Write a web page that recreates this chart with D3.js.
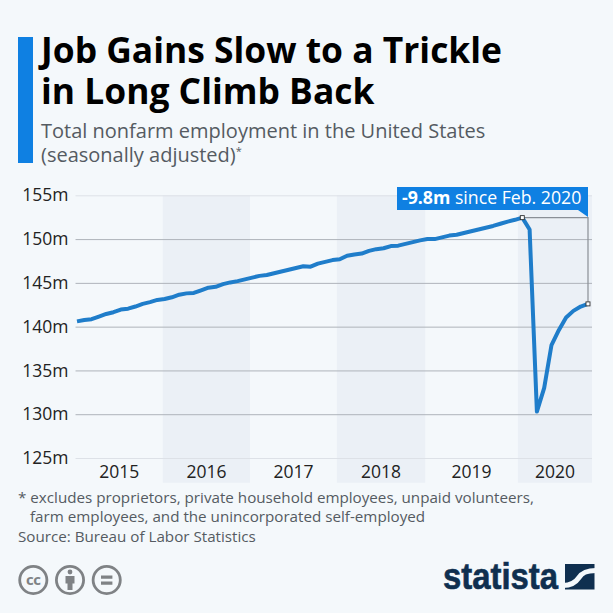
<html>
<head>
    <title>Job Gains Slow to a Trickle</title>
    <meta charset="utf-8" />
    <style>
body {
    margin: 0;
    padding: 0;
    background: #f4f8fb;
}

svg {
    display: block;
    font-family: 'Open Sans', sans-serif;
}

.line {
    fill: none;
    stroke: #1f7dca;
    stroke-width: 4;
    stroke-linejoin: round;
}

.axis text {
    fill: #222;
    font-family: 'Open Sans', sans-serif;
    font-size: 17.5px;
}
    </style>

    <!-- load the d3.js library -->
    <script src="https://d3js.org/d3.v7.min.js"></script>
</head>
<body>
    <script>
var months = d3.range(0, 71);

// million jobs per month, Jan 2015 - Nov 2020
var employment = [
    140.6, 140.75, 140.85, 141.15, 141.45, 141.65, 141.95, 142.05, 142.3, 142.6, 142.8, 143.05,
    143.15, 143.35, 143.65, 143.8, 143.85, 144.15, 144.45, 144.55, 144.85, 145.05, 145.2, 145.4,
    145.6, 145.8, 145.9, 146.1, 146.3, 146.5, 146.7, 146.9, 146.85, 147.2, 147.4, 147.6,
    147.7, 148.1, 148.25, 148.35, 148.65, 148.85, 148.95, 149.2, 149.25, 149.45, 149.65, 149.85,
    150.0, 150.0, 150.2, 150.4, 150.5, 150.7, 150.9, 151.1, 151.3, 151.5, 151.75, 152.0,
    152.2, 152.45, 151.1, 130.3, 133.0, 137.9, 139.6, 141.05, 141.8, 142.3, 142.6
];

var yTicks = [125, 130, 135, 140, 145, 150, 155];

// year bands, edges given in months since Jan 2015
var years = [2015, 2016, 2017, 2018, 2019, 2020];
var yearEdges = [-0.2, 11.75, 23.7, 35.6, 47.7, 60.4, 70.55];

var titleLines = ["Job Gains Slow to a Trickle", "in Long Climb Back"];
var subtitleLines = ["Total nonfarm employment in the United States", "(seasonally adjusted)"];
var noteLines = [
    "* excludes proprietors, private household employees, unpaid volunteers,",
    "farm employees, and the unincorporated self-employed"
];
var sourceLine = "Source: Bureau of Labor Statistics";
var annotationBold = "-9.8m";
var annotationRest = " since Feb. 2020";
var peakMonth = 61, lastMonth = 70;

var width = 613, height = 613;
var blue = "#0f80e2", grey = "#555b62", navy = "#0f2f4f", iconGrey = "#7f8285", bg = "#f4f8fb";

var svg = d3.select("body").append("svg")
    .attr("width", width)
    .attr("height", height);

var x = d3.scaleLinear().domain([0, 70]).range([77, 588]);
var y = d3.scaleLinear().domain([125, 155]).range([458, 195.3]);

// heading
svg.append("rect").attr("x", 18).attr("y", 37).attr("width", 15).attr("height", 126).attr("fill", blue);

svg.selectAll(".title").data(titleLines).enter().append("text")
    .attr("class", "title")
    .attr("x", 41)
    .attr("y", function (d, i) { return 62.5 + i * 41; })
    .attr("font-size", 35.4)
    .attr("font-weight", 700)
    .attr("fill", "#000")
    .text(function (d) { return d; });

var sub = svg.selectAll(".subtitle").data(subtitleLines).enter().append("text")
    .attr("class", "subtitle")
    .attr("x", 41)
    .attr("y", function (d, i) { return 138 + i * 24; })
    .attr("font-size", 20)
    .attr("fill", grey)
    .text(function (d) { return d; });

d3.select(sub.nodes()[1]).append("tspan")
    .attr("font-size", 11)
    .attr("dy", -7)
    .text("*");

// year bands
svg.selectAll(".band").data(years).enter().append("rect")
    .attr("class", "band")
    .attr("x", function (d, i) { return x(yearEdges[i]); })
    .attr("y", y(155))
    .attr("width", function (d, i) { return x(yearEdges[i + 1]) - x(yearEdges[i]); })
    .attr("height", 287.5)
    .attr("fill", function (d, i) { return i % 2 ? "#ebf0f6" : "none"; });

// y axis with grid lines
var yAxis = d3.axisLeft(y)
    .tickValues(yTicks)
    .tickSize(x(yearEdges[6]) - x(yearEdges[0]))
    .tickPadding(7)
    .tickFormat(function (d) { return d + "m"; });

var yG = svg.append("g")
    .attr("class", "y axis")
    .attr("transform", "translate(" + x(yearEdges[6]) + ",0)")
    .call(yAxis);
yG.select(".domain").remove();
yG.selectAll("line").attr("stroke", function (d) { return d === 155 || d === 125 ? "#dde1e7" : "#aeb3ba"; });

// year labels sit in the middle of their band
svg.selectAll(".year").data(years).enter().append("text")
    .attr("class", "year")
    .attr("x", function (d, i) { return (x(yearEdges[i]) + x(yearEdges[i + 1])) / 2; })
    .attr("y", 477.5)
    .attr("text-anchor", "middle")
    .attr("font-size", 17.5)
    .attr("fill", "#222")
    .text(function (d) { return d; });

// connector between peak and latest value
var connector = d3.line();

svg.append("path")
    .attr("d", connector([
        [x(peakMonth), y(employment[peakMonth])],
        [x(lastMonth), y(employment[peakMonth])],
        [x(lastMonth), y(employment[lastMonth])]
    ]))
    .attr("fill", "none")
    .attr("stroke", "#8a8f96")
    .attr("stroke-width", 1.2);

var valueLine = d3.line()
    .x(function (d) { return x(d); })
    .y(function (d) { return y(employment[d]); });

svg.append("path").datum(months).classed("line", true).attr("d", valueLine);

svg.selectAll(".marker").data([peakMonth, lastMonth]).enter().append("rect")
    .attr("class", "marker")
    .attr("x", function (d) { return x(d) - 2; })
    .attr("y", function (d) { return y(employment[d]) - 2; })
    .attr("width", 4)
    .attr("height", 4)
    .attr("fill", "#fff")
    .attr("stroke", "#333")
    .attr("stroke-width", 0.9);

// annotation flag
svg.append("path")
    .attr("d", "M397,187H588V217L578,210H397Z")
    .attr("fill", blue);

var flag = svg.append("text")
    .attr("x", 402)
    .attr("y", 204)
    .attr("font-size", 17.7)
    .attr("fill", "#fff")
    .attr("xml:space", "preserve");
flag.append("tspan").attr("font-weight", 700).text(annotationBold);
flag.append("tspan").text(annotationRest);

// notes
svg.selectAll(".note").data(noteLines).enter().append("text")
    .attr("class", "note")
    .attr("x", function (d, i) { return i ? 30 : 18; })
    .attr("y", function (d, i) { return 503 + i * 19; })
    .attr("font-size", 15.2)
    .attr("fill", grey)
    .text(function (d) { return d; });

svg.append("text")
    .attr("x", 18)
    .attr("y", 542)
    .attr("font-size", 15.2)
    .attr("fill", grey)
    .text(sourceLine);

// licence icons
var icons = svg.append("g").attr("transform", "translate(0,580)");

icons.selectAll("circle").data([33.3, 70, 106.7]).enter().append("circle")
    .attr("cx", function (d) { return d; })
    .attr("r", 13.6)
    .attr("fill", "none")
    .attr("stroke", iconGrey)
    .attr("stroke-width", 2.8);

icons.append("text")
    .attr("x", 33.3)
    .attr("y", 5)
    .attr("text-anchor", "middle")
    .attr("font-size", 15)
    .attr("font-weight", 700)
    .attr("letter-spacing", -0.5)
    .attr("fill", iconGrey)
    .text("cc");

icons.append("circle").attr("cx", 70).attr("cy", -8).attr("r", 2.4).attr("fill", iconGrey);
icons.append("path").attr("d", "M65.5,-4H74.5V3.5H72.5V10H67.5V3.5H65.5Z").attr("fill", iconGrey);
icons.append("path").attr("d", "M101,-4.5H112.4V-1.2H101ZM101,1.5H112.4V4.8H101Z").attr("fill", iconGrey);

// logo
svg.append("text")
    .attr("x", 443)
    .attr("y", 588.5)
    .attr("font-family", "'Liberation Sans Narrow', 'Liberation Sans', sans-serif")
    .attr("font-weight", 700)
    .attr("font-size", 36)
    .attr("fill", navy)
    .attr("stroke", navy)
    .attr("stroke-width", 0.6)
    .attr("textLength", 115)
    .attr("lengthAdjust", "spacingAndGlyphs")
    .text("statista");

svg.append("rect").attr("x", 565).attr("y", 564).attr("width", 29.5).attr("height", 25.5).attr("fill", navy);
svg.append("path")
    .attr("d", "M563,585.5C572,585.5 576,582 579,577.5C582,573 586,570.5 596,570.5")
    .attr("fill", "none")
    .attr("stroke", bg)
    .attr("stroke-width", 5);
    </script>
</body>
</html>
